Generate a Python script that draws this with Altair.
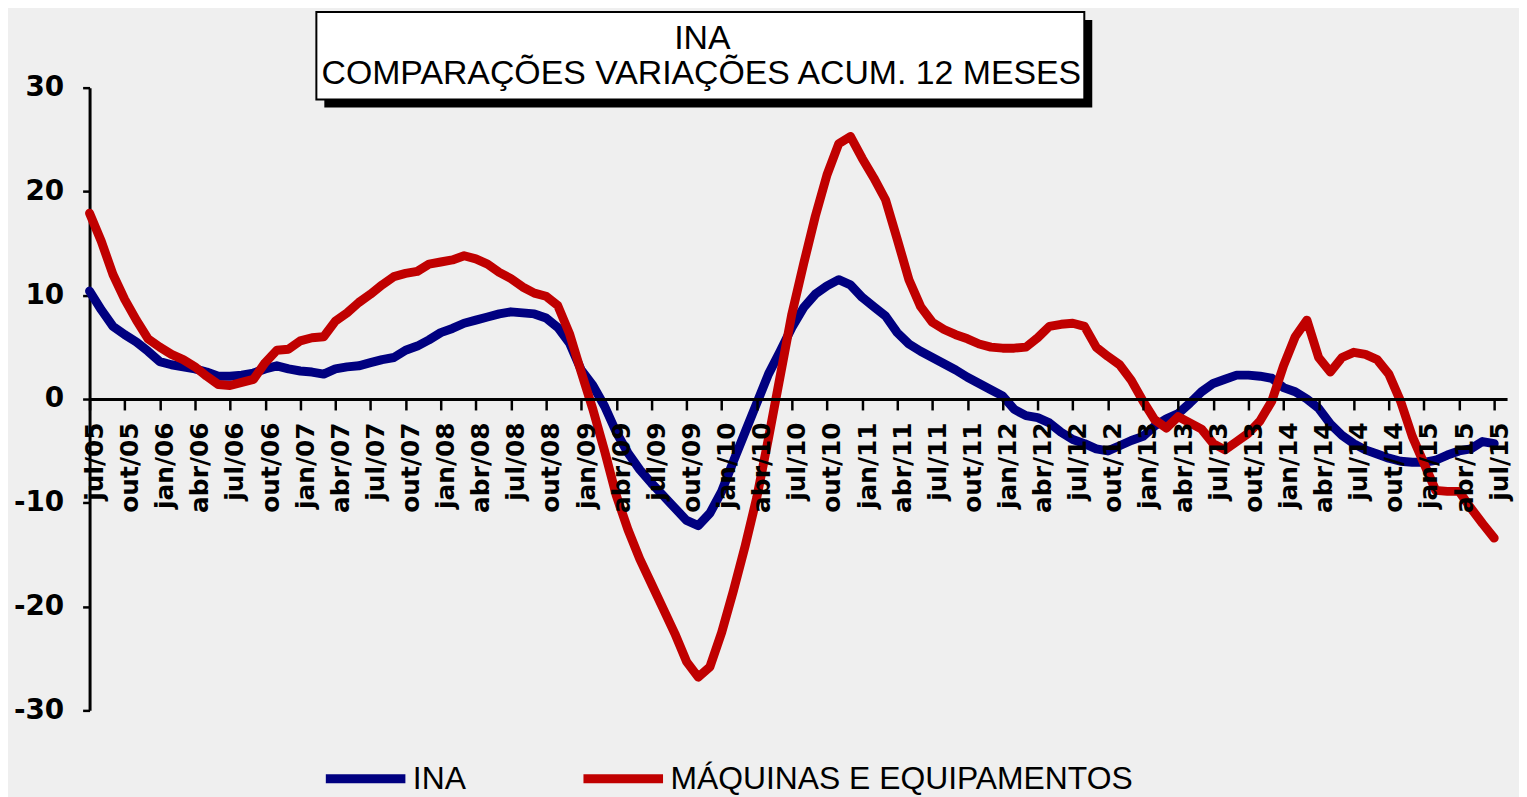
import altair as alt
import pandas as pd

# ---- data -----------------------------------------------------------------
SERIES = ["INA", "MÁQUINAS E EQUIPAMENTOS"]
COLORS = ["#000080", "#c00000"]

TICK_LABELS = [
    "jul/05", "out/05", "jan/06", "abr/06", "jul/06", "out/06", "jan/07", "abr/07",
    "jul/07", "out/07", "jan/08", "abr/08", "jul/08", "out/08", "jan/09", "abr/09",
    "jul/09", "out/09", "jan/10", "abr/10", "jul/10", "out/10", "jan/11", "abr/11",
    "jul/11", "out/11", "jan/12", "abr/12", "jul/12", "out/12", "jan/13", "abr/13",
    "jul/13", "out/13", "jan/14", "abr/14", "jul/14", "out/14", "jan/15", "abr/15",
    "jul/15",
]

# monthly values, jul/05 .. jul/15 (121 months)
INA = [
    10.4, 8.6, 7.0, 6.2, 5.5, 4.6, 3.6, 3.3, 3.1, 2.9, 2.6, 2.2,
    2.2, 2.3, 2.5, 2.9, 3.2, 2.9, 2.7, 2.6, 2.4, 2.9, 3.1, 3.2,
    3.5, 3.8, 4.0, 4.7, 5.1, 5.7, 6.4, 6.8, 7.3, 7.6, 7.9, 8.2,
    8.4, 8.3, 8.2, 7.8, 6.9, 5.4, 2.8, 1.3, -0.7, -3.2, -5.2, -6.8,
    -8.1, -9.3, -10.5, -11.7, -12.2, -11.0, -8.9, -6.0, -3.2, -0.4, 2.4, 4.6,
    6.9, 8.8, 10.1, 10.9, 11.5, 11.0, 9.8, 8.9, 8.0, 6.4, 5.3, 4.6,
    4.0, 3.4, 2.8, 2.1, 1.5, 0.9, 0.3, -1.0, -1.6, -1.8, -2.3, -3.2,
    -3.9, -4.3, -4.8, -5.0, -4.5, -4.0, -3.6, -2.6, -1.9, -1.4, -0.4, 0.7,
    1.5, 1.9, 2.3, 2.3, 2.2, 2.0, 1.1, 0.7, 0.0, -0.9, -2.4, -3.5,
    -4.3, -4.9, -5.3, -5.7, -6.0, -6.1, -6.1, -5.9, -5.4, -5.0, -4.8, -4.1,
    -4.3,
]

MAQUINAS = [
    17.9, 15.2, 12.0, 9.6, 7.6, 5.8, 5.0, 4.3, 3.8, 3.1, 2.2, 1.4,
    1.3, 1.6, 1.9, 3.5, 4.7, 4.8, 5.6, 5.9, 6.0, 7.5, 8.3, 9.3,
    10.1, 11.0, 11.8, 12.1, 12.3, 13.0, 13.2, 13.4, 13.8, 13.5, 13.0, 12.2,
    11.6, 10.8, 10.2, 9.9, 9.0, 6.3, 2.6, -1.0, -5.0, -9.3, -12.6, -15.4,
    -17.8, -20.2, -22.6, -25.3, -26.8, -25.8, -22.5, -18.5, -14.2, -9.5, -3.8, 2.2,
    8.2, 13.0, 17.6, 21.6, 24.6, 25.3, 23.2, 21.3, 19.2, 15.4, 11.5, 8.9,
    7.4, 6.7, 6.2, 5.8, 5.3, 5.0, 4.9, 4.9, 5.0, 5.9, 7.0, 7.2,
    7.3, 7.0, 5.0, 4.1, 3.3, 1.8, -0.2, -2.0, -2.8, -1.7, -2.3, -2.9,
    -4.3, -4.9, -4.1, -3.3, -2.1, -0.2, 3.2, 6.0, 7.6, 4.0, 2.6, 4.0,
    4.5, 4.3, 3.8, 2.4, -0.2, -3.6, -6.2, -8.8, -8.9, -8.9, -10.5, -12.0,
    -13.4,
]

TITLE_LINES = ["INA", "COMPARAÇÕES VARIAÇÕES ACUM. 12 MESES"]

df_ina = pd.DataFrame({"m": range(len(INA)), "value": INA, "series": SERIES[0]})
df_maq = pd.DataFrame({"m": range(len(MAQUINAS)), "value": MAQUINAS, "series": SERIES[1]})

# ---- layout ---------------------------------------------------------------
W, H = 1425, 626
label_js = "[" + ",".join("'" + t + "'" for t in TICK_LABELS) + "]"

x_enc = alt.X(
    "m:Q",
    scale=alt.Scale(domain=[0, 121.1], nice=False, zero=False),
    axis=alt.Axis(
        values=list(range(0, 121, 3)),
        labelExpr=label_js + "[round(datum.value/3)]",
        labelAngle=270,
        labelFont="DejaVu Sans",
        labelFontWeight="bold",
        labelFontSize=25,
        labelColor="black",
        labelPadding=12,
        labelOffset=5,
        labelOverlap=False,
        labelFlush=False,
        tickColor="black",
        tickSize=11,
        tickWidth=2.5,
        domainColor="black",
        domainWidth=3,
        offset=-H / 2,
        grid=False,
        title=None,
        zindex=1,
    ),
)
y_enc = alt.Y(
    "value:Q",
    scale=alt.Scale(domain=[-30, 30], nice=False),
    axis=alt.Axis(
        values=[-30, -20, -10, 0, 10, 20, 30],
        labelExpr="'' + datum.value",
        labelFont="DejaVu Sans",
        labelFontWeight="bold",
        labelFontSize=28,
        labelColor="black",
        labelPadding=19,
        tickColor="black",
        tickSize=7,
        tickWidth=2.5,
        domainColor="black",
        domainWidth=3,
        grid=False,
        title=None,
    ),
)
color_enc = alt.Color(
    "series:N",
    scale=alt.Scale(domain=SERIES, range=COLORS),
    legend=alt.Legend(
        orient="none",
        legendX=233,
        legendY=650,
        direction="horizontal",
        symbolType="stroke",
        symbolSize=6400,
        symbolStrokeWidth=9,
        labelFont="Liberation Sans",
        labelFontSize=32,
        labelColor="black",
        labelOffset=3,
        labelLimit=0,
        columnPadding=99,
        padding=0,
        title=None,
    ),
)

line_kw = dict(strokeWidth=9, strokeJoin="round", strokeCap="round")
ina_line = alt.Chart(df_ina).mark_line(**line_kw).encode(x=x_enc, y=y_enc, color=color_enc)
maq_line = alt.Chart(df_maq).mark_line(**line_kw).encode(x=x_enc, y=y_enc, color=color_enc)

one = alt.Data(values=[{}])
shadow = alt.Chart(one).mark_rect(color="black").encode(
    x=alt.value(236), x2=alt.value(1008), y=alt.value(-68), y2=alt.value(20)
)
box = alt.Chart(one).mark_rect(fill="white", stroke="black", strokeWidth=2).encode(
    x=alt.value(228), x2=alt.value(1000), y=alt.value(-76), y2=alt.value(12)
)
t1 = alt.Chart(one).mark_text(
    text=TITLE_LINES[0], font="Liberation Sans", fontSize=34, color="black", baseline="middle"
).encode(x=alt.value(616), y=alt.value(-49))
t2 = alt.Chart(one).mark_text(
    text=TITLE_LINES[1], font="Liberation Sans", fontSize=34, color="black", baseline="middle"
).encode(x=alt.value(615), y=alt.value(-14))

chart = (
    alt.layer(ina_line, maq_line, shadow, box, t1, t2)
    .properties(
        width=W,
        height=H,
        padding={"left": 82, "top": 78, "right": 12, "bottom": 85},
        autosize=alt.AutoSizeParams(type="none"),
        background="#efefef",
    )
    .configure_view(stroke=None)
)

chart.save("out.html", embed_options={"renderer": "svg", "actions": False})
